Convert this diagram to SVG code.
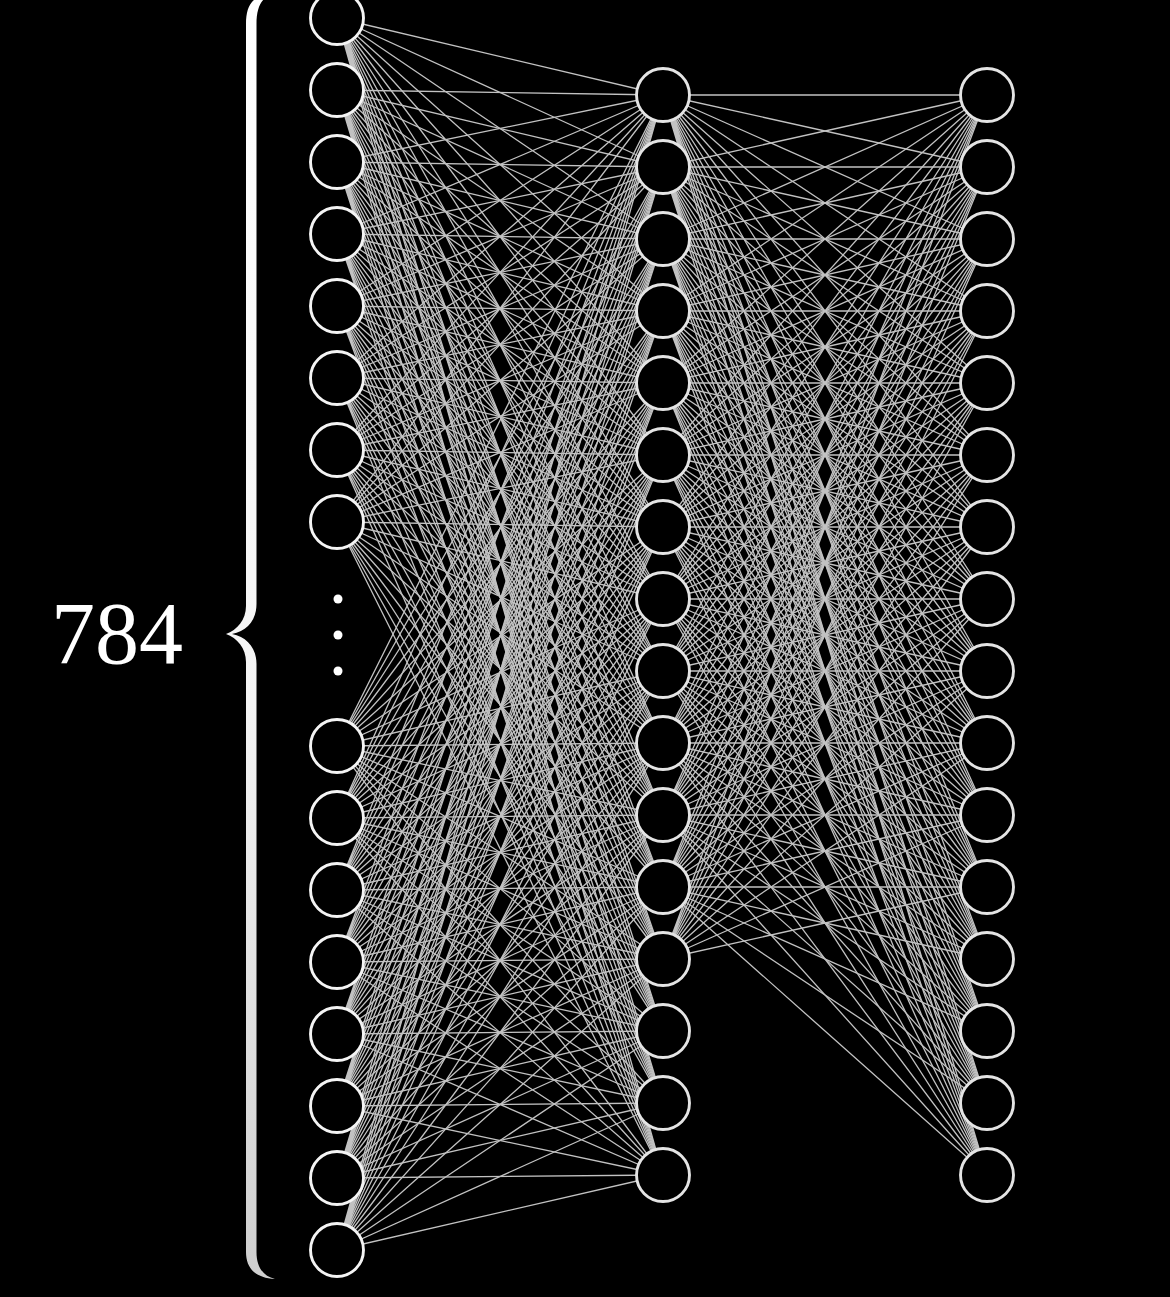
<svg xmlns="http://www.w3.org/2000/svg" width="1170" height="1297" viewBox="0 0 1170 1297">
<style>
.bg{fill:#000}
.e{fill:none;stroke:#c2c2c2;stroke-width:1.3;stroke-linecap:round}
.n{fill:#000;stroke:#f4f4f4;stroke-width:2.9}
.h{fill:#000;stroke:#e4e4e4;stroke-width:2.9}
.dot{fill:#fff}
.lbl{font-family:"Liberation Serif","DejaVu Serif",serif;font-size:88px;fill:#fff}
</style>
<defs>
<linearGradient id="braceGrad" gradientUnits="userSpaceOnUse" x1="0" y1="0" x2="0" y2="1280">
<stop offset="0" stop-color="#ffffff"/>
<stop offset="0.55" stop-color="#f4f4f4"/>
<stop offset="1" stop-color="#cfcfcf"/>
</linearGradient>
</defs>
<rect class="bg" x="0" y="0" width="1170" height="1297"/>
<g id="connectors">
<path id="e-in0" class="e" d="M337 18L663 95M337 18L663 167M337 18L663 239M337 18L663 311M337 18L663 383M337 18L663 455M337 18L663 527M337 18L663 599M337 18L663 671M337 18L663 743M337 18L663 815M337 18L663 887M337 18L663 959M337 18L663 1031M337 18L663 1103M337 18L663 1175"/>
<path id="e-in1" class="e" d="M337 90L663 95M337 90L663 167M337 90L663 239M337 90L663 311M337 90L663 383M337 90L663 455M337 90L663 527M337 90L663 599M337 90L663 671M337 90L663 743M337 90L663 815M337 90L663 887M337 90L663 959M337 90L663 1031M337 90L663 1103M337 90L663 1175"/>
<path id="e-in2" class="e" d="M337 162L663 95M337 162L663 167M337 162L663 239M337 162L663 311M337 162L663 383M337 162L663 455M337 162L663 527M337 162L663 599M337 162L663 671M337 162L663 743M337 162L663 815M337 162L663 887M337 162L663 959M337 162L663 1031M337 162L663 1103M337 162L663 1175"/>
<path id="e-in3" class="e" d="M337 234L663 95M337 234L663 167M337 234L663 239M337 234L663 311M337 234L663 383M337 234L663 455M337 234L663 527M337 234L663 599M337 234L663 671M337 234L663 743M337 234L663 815M337 234L663 887M337 234L663 959M337 234L663 1031M337 234L663 1103M337 234L663 1175"/>
<path id="e-in4" class="e" d="M337 306L663 95M337 306L663 167M337 306L663 239M337 306L663 311M337 306L663 383M337 306L663 455M337 306L663 527M337 306L663 599M337 306L663 671M337 306L663 743M337 306L663 815M337 306L663 887M337 306L663 959M337 306L663 1031M337 306L663 1103M337 306L663 1175"/>
<path id="e-in5" class="e" d="M337 378L663 95M337 378L663 167M337 378L663 239M337 378L663 311M337 378L663 383M337 378L663 455M337 378L663 527M337 378L663 599M337 378L663 671M337 378L663 743M337 378L663 815M337 378L663 887M337 378L663 959M337 378L663 1031M337 378L663 1103M337 378L663 1175"/>
<path id="e-in6" class="e" d="M337 450L663 95M337 450L663 167M337 450L663 239M337 450L663 311M337 450L663 383M337 450L663 455M337 450L663 527M337 450L663 599M337 450L663 671M337 450L663 743M337 450L663 815M337 450L663 887M337 450L663 959M337 450L663 1031M337 450L663 1103M337 450L663 1175"/>
<path id="e-in7" class="e" d="M337 522L663 95M337 522L663 167M337 522L663 239M337 522L663 311M337 522L663 383M337 522L663 455M337 522L663 527M337 522L663 599M337 522L663 671M337 522L663 743M337 522L663 815M337 522L663 887M337 522L663 959M337 522L663 1031M337 522L663 1103M337 522L663 1175"/>
<path id="e-in8" class="e" d="M337 746L663 95M337 746L663 167M337 746L663 239M337 746L663 311M337 746L663 383M337 746L663 455M337 746L663 527M337 746L663 599M337 746L663 671M337 746L663 743M337 746L663 815M337 746L663 887M337 746L663 959M337 746L663 1031M337 746L663 1103M337 746L663 1175"/>
<path id="e-in9" class="e" d="M337 818L663 95M337 818L663 167M337 818L663 239M337 818L663 311M337 818L663 383M337 818L663 455M337 818L663 527M337 818L663 599M337 818L663 671M337 818L663 743M337 818L663 815M337 818L663 887M337 818L663 959M337 818L663 1031M337 818L663 1103M337 818L663 1175"/>
<path id="e-in10" class="e" d="M337 890L663 95M337 890L663 167M337 890L663 239M337 890L663 311M337 890L663 383M337 890L663 455M337 890L663 527M337 890L663 599M337 890L663 671M337 890L663 743M337 890L663 815M337 890L663 887M337 890L663 959M337 890L663 1031M337 890L663 1103M337 890L663 1175"/>
<path id="e-in11" class="e" d="M337 962L663 95M337 962L663 167M337 962L663 239M337 962L663 311M337 962L663 383M337 962L663 455M337 962L663 527M337 962L663 599M337 962L663 671M337 962L663 743M337 962L663 815M337 962L663 887M337 962L663 959M337 962L663 1031M337 962L663 1103M337 962L663 1175"/>
<path id="e-in12" class="e" d="M337 1034L663 95M337 1034L663 167M337 1034L663 239M337 1034L663 311M337 1034L663 383M337 1034L663 455M337 1034L663 527M337 1034L663 599M337 1034L663 671M337 1034L663 743M337 1034L663 815M337 1034L663 887M337 1034L663 959M337 1034L663 1031M337 1034L663 1103M337 1034L663 1175"/>
<path id="e-in13" class="e" d="M337 1106L663 95M337 1106L663 167M337 1106L663 239M337 1106L663 311M337 1106L663 383M337 1106L663 455M337 1106L663 527M337 1106L663 599M337 1106L663 671M337 1106L663 743M337 1106L663 815M337 1106L663 887M337 1106L663 959M337 1106L663 1031M337 1106L663 1103M337 1106L663 1175"/>
<path id="e-in14" class="e" d="M337 1178L663 95M337 1178L663 167M337 1178L663 239M337 1178L663 311M337 1178L663 383M337 1178L663 455M337 1178L663 527M337 1178L663 599M337 1178L663 671M337 1178L663 743M337 1178L663 815M337 1178L663 887M337 1178L663 959M337 1178L663 1031M337 1178L663 1103M337 1178L663 1175"/>
<path id="e-in15" class="e" d="M337 1250L663 95M337 1250L663 167M337 1250L663 239M337 1250L663 311M337 1250L663 383M337 1250L663 455M337 1250L663 527M337 1250L663 599M337 1250L663 671M337 1250L663 743M337 1250L663 815M337 1250L663 887M337 1250L663 959M337 1250L663 1031M337 1250L663 1103M337 1250L663 1175"/>
<path id="e-h0" class="e" d="M663 95L987 95M663 95L987 167M663 95L987 239M663 95L987 311M663 95L987 383M663 95L987 455M663 95L987 527M663 95L987 599M663 95L987 671M663 95L987 743M663 95L987 815M663 95L987 887M663 95L987 959M663 95L987 1031M663 95L987 1103M663 95L987 1175"/>
<path id="e-h1" class="e" d="M663 167L987 95M663 167L987 167M663 167L987 239M663 167L987 311M663 167L987 383M663 167L987 455M663 167L987 527M663 167L987 599M663 167L987 671M663 167L987 743M663 167L987 815M663 167L987 887M663 167L987 959M663 167L987 1031M663 167L987 1103M663 167L987 1175"/>
<path id="e-h2" class="e" d="M663 239L987 95M663 239L987 167M663 239L987 239M663 239L987 311M663 239L987 383M663 239L987 455M663 239L987 527M663 239L987 599M663 239L987 671M663 239L987 743M663 239L987 815M663 239L987 887M663 239L987 959M663 239L987 1031M663 239L987 1103M663 239L987 1175"/>
<path id="e-h3" class="e" d="M663 311L987 95M663 311L987 167M663 311L987 239M663 311L987 311M663 311L987 383M663 311L987 455M663 311L987 527M663 311L987 599M663 311L987 671M663 311L987 743M663 311L987 815M663 311L987 887M663 311L987 959M663 311L987 1031M663 311L987 1103M663 311L987 1175"/>
<path id="e-h4" class="e" d="M663 383L987 95M663 383L987 167M663 383L987 239M663 383L987 311M663 383L987 383M663 383L987 455M663 383L987 527M663 383L987 599M663 383L987 671M663 383L987 743M663 383L987 815M663 383L987 887M663 383L987 959M663 383L987 1031M663 383L987 1103M663 383L987 1175"/>
<path id="e-h5" class="e" d="M663 455L987 95M663 455L987 167M663 455L987 239M663 455L987 311M663 455L987 383M663 455L987 455M663 455L987 527M663 455L987 599M663 455L987 671M663 455L987 743M663 455L987 815M663 455L987 887M663 455L987 959M663 455L987 1031M663 455L987 1103M663 455L987 1175"/>
<path id="e-h6" class="e" d="M663 527L987 95M663 527L987 167M663 527L987 239M663 527L987 311M663 527L987 383M663 527L987 455M663 527L987 527M663 527L987 599M663 527L987 671M663 527L987 743M663 527L987 815M663 527L987 887M663 527L987 959M663 527L987 1031M663 527L987 1103M663 527L987 1175"/>
<path id="e-h7" class="e" d="M663 599L987 95M663 599L987 167M663 599L987 239M663 599L987 311M663 599L987 383M663 599L987 455M663 599L987 527M663 599L987 599M663 599L987 671M663 599L987 743M663 599L987 815M663 599L987 887M663 599L987 959M663 599L987 1031M663 599L987 1103M663 599L987 1175"/>
<path id="e-h8" class="e" d="M663 671L987 95M663 671L987 167M663 671L987 239M663 671L987 311M663 671L987 383M663 671L987 455M663 671L987 527M663 671L987 599M663 671L987 671M663 671L987 743M663 671L987 815M663 671L987 887M663 671L987 959M663 671L987 1031M663 671L987 1103M663 671L987 1175"/>
<path id="e-h9" class="e" d="M663 743L987 95M663 743L987 167M663 743L987 239M663 743L987 311M663 743L987 383M663 743L987 455M663 743L987 527M663 743L987 599M663 743L987 671M663 743L987 743M663 743L987 815M663 743L987 887M663 743L987 959M663 743L987 1031M663 743L987 1103M663 743L987 1175"/>
<path id="e-h10" class="e" d="M663 815L987 95M663 815L987 167M663 815L987 239M663 815L987 311M663 815L987 383M663 815L987 455M663 815L987 527M663 815L987 599M663 815L987 671M663 815L987 743M663 815L987 815M663 815L987 887M663 815L987 959M663 815L987 1031M663 815L987 1103M663 815L987 1175"/>
<path id="e-h11" class="e" d="M663 887L987 95M663 887L987 167M663 887L987 239M663 887L987 311M663 887L987 383M663 887L987 455M663 887L987 527M663 887L987 599M663 887L987 671M663 887L987 743M663 887L987 815M663 887L987 887M663 887L987 959M663 887L987 1031M663 887L987 1103M663 887L987 1175"/>
<path id="e-h12" class="e" d="M663 959L987 95M663 959L987 167M663 959L987 239M663 959L987 311M663 959L987 383M663 959L987 455M663 959L987 527M663 959L987 599M663 959L987 671M663 959L987 743M663 959L987 815M663 959L987 887"/>
</g>
<g id="input-layer">
<g id="in-0"><circle class="n" cx="337" cy="18" r="26.5"/></g>
<g id="in-1"><circle class="n" cx="337" cy="90" r="26.5"/></g>
<g id="in-2"><circle class="n" cx="337" cy="162" r="26.5"/></g>
<g id="in-3"><circle class="n" cx="337" cy="234" r="26.5"/></g>
<g id="in-4"><circle class="n" cx="337" cy="306" r="26.5"/></g>
<g id="in-5"><circle class="n" cx="337" cy="378" r="26.5"/></g>
<g id="in-6"><circle class="n" cx="337" cy="450" r="26.5"/></g>
<g id="in-7"><circle class="n" cx="337" cy="522" r="26.5"/></g>
<g id="in-8"><circle class="n" cx="337" cy="746" r="26.5"/></g>
<g id="in-9"><circle class="n" cx="337" cy="818" r="26.5"/></g>
<g id="in-10"><circle class="n" cx="337" cy="890" r="26.5"/></g>
<g id="in-11"><circle class="n" cx="337" cy="962" r="26.5"/></g>
<g id="in-12"><circle class="n" cx="337" cy="1034" r="26.5"/></g>
<g id="in-13"><circle class="n" cx="337" cy="1106" r="26.5"/></g>
<g id="in-14"><circle class="n" cx="337" cy="1178" r="26.5"/></g>
<g id="in-15"><circle class="n" cx="337" cy="1250" r="26.5"/></g>
<g id="ellipsis">
<circle class="dot" cx="338" cy="599" r="4.5"/>
<circle class="dot" cx="338" cy="635" r="4.5"/>
<circle class="dot" cx="338" cy="671" r="4.5"/>
</g>
</g>
<g id="hidden-layer-1">
<g id="h1-0"><circle class="h" cx="663" cy="95" r="26.5"/></g>
<g id="h1-1"><circle class="h" cx="663" cy="167" r="26.5"/></g>
<g id="h1-2"><circle class="h" cx="663" cy="239" r="26.5"/></g>
<g id="h1-3"><circle class="h" cx="663" cy="311" r="26.5"/></g>
<g id="h1-4"><circle class="h" cx="663" cy="383" r="26.5"/></g>
<g id="h1-5"><circle class="h" cx="663" cy="455" r="26.5"/></g>
<g id="h1-6"><circle class="h" cx="663" cy="527" r="26.5"/></g>
<g id="h1-7"><circle class="h" cx="663" cy="599" r="26.5"/></g>
<g id="h1-8"><circle class="h" cx="663" cy="671" r="26.5"/></g>
<g id="h1-9"><circle class="h" cx="663" cy="743" r="26.5"/></g>
<g id="h1-10"><circle class="h" cx="663" cy="815" r="26.5"/></g>
<g id="h1-11"><circle class="h" cx="663" cy="887" r="26.5"/></g>
<g id="h1-12"><circle class="h" cx="663" cy="959" r="26.5"/></g>
<g id="h1-13"><circle class="h" cx="663" cy="1031" r="26.5"/></g>
<g id="h1-14"><circle class="h" cx="663" cy="1103" r="26.5"/></g>
<g id="h1-15"><circle class="h" cx="663" cy="1175" r="26.5"/></g>
</g>
<g id="hidden-layer-2">
<g id="h2-0"><circle class="h" cx="987" cy="95" r="26.5"/></g>
<g id="h2-1"><circle class="h" cx="987" cy="167" r="26.5"/></g>
<g id="h2-2"><circle class="h" cx="987" cy="239" r="26.5"/></g>
<g id="h2-3"><circle class="h" cx="987" cy="311" r="26.5"/></g>
<g id="h2-4"><circle class="h" cx="987" cy="383" r="26.5"/></g>
<g id="h2-5"><circle class="h" cx="987" cy="455" r="26.5"/></g>
<g id="h2-6"><circle class="h" cx="987" cy="527" r="26.5"/></g>
<g id="h2-7"><circle class="h" cx="987" cy="599" r="26.5"/></g>
<g id="h2-8"><circle class="h" cx="987" cy="671" r="26.5"/></g>
<g id="h2-9"><circle class="h" cx="987" cy="743" r="26.5"/></g>
<g id="h2-10"><circle class="h" cx="987" cy="815" r="26.5"/></g>
<g id="h2-11"><circle class="h" cx="987" cy="887" r="26.5"/></g>
<g id="h2-12"><circle class="h" cx="987" cy="959" r="26.5"/></g>
<g id="h2-13"><circle class="h" cx="987" cy="1031" r="26.5"/></g>
<g id="h2-14"><circle class="h" cx="987" cy="1103" r="26.5"/></g>
<g id="h2-15"><circle class="h" cx="987" cy="1175" r="26.5"/></g>
</g>
<g id="brace-label">
<path id="brace" fill="url(#braceGrad)" d="M270 -5C253 -5 246 5 246 24L246 606C246 620 237 630 226 634C237 638 246 648 246 662L246 1252C246 1268 255 1278 275 1279C263 1276 256.5 1267 256.5 1252L256.5 664C256.5 648 247 637 232 634C247 631 256.5 620 256.5 604L256.5 24C256.5 8 261 -1 270 -5Z"/>
<text class="lbl" x="117" y="663" text-anchor="middle">784</text>
</g>
</svg>
